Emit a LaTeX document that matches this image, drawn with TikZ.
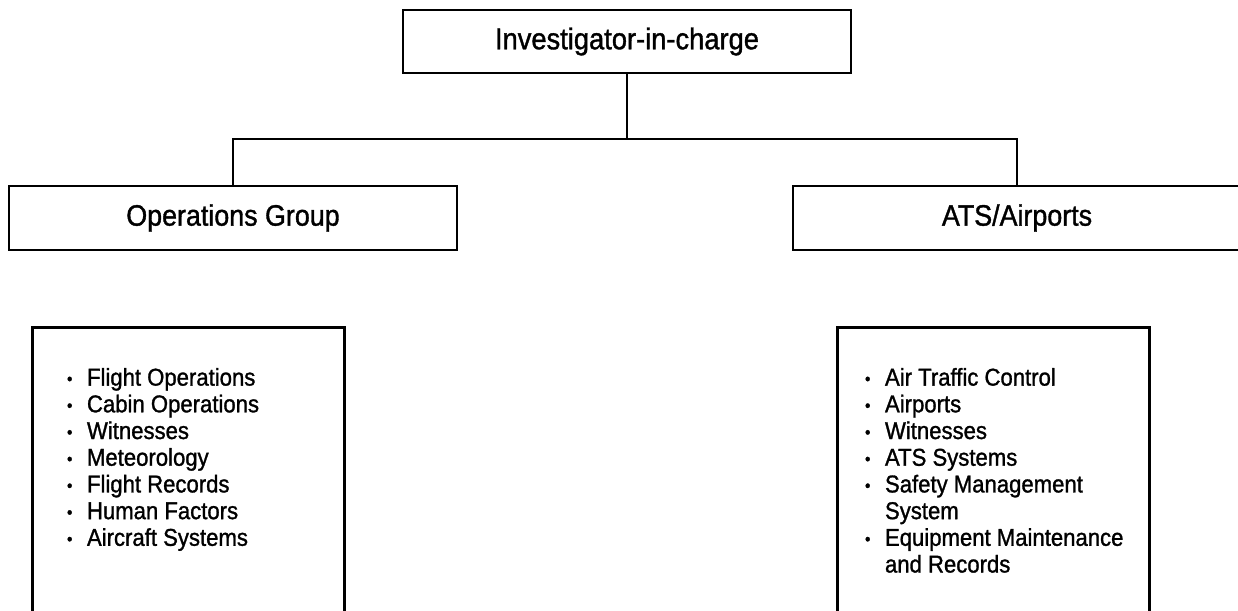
\documentclass[tikz,border=0pt]{standalone}
\usepackage{fontspec}
\setmainfont{Liberation Sans}[FakeStretch=0.91,FakeBold=1.2]

\newcommand{\bul}{\makebox[20pt][l]{\raisebox{1pt}{\fontsize{17}{17}\selectfont\textbullet}}}
\newcommand{\cont}{\hspace*{20pt}}

\begin{document}
\begin{tikzpicture}
[x=1pt,y=-1pt,%
  every node/.style={draw,align=center,inner sep=0pt},%
  headbox/.style={line width=2.5pt,minimum width=448pt,minimum height=63pt,
    font=\fontsize{30}{32}\selectfont},%
  groupbox/.style={line width=2.5pt,minimum width=448pt,minimum height=64pt,
    font=\fontsize{29.5}{31}\selectfont},%
  listbox/.style={line width=3pt,anchor=north west,align=left,
    inner xsep=0pt,inner ysep=40.5pt,minimum width=312pt,
    font=\fontsize{24.3}{26.7}\selectfont},%
  link/.style={line width=1.2pt}]
\useasboundingbox (0,0) rectangle (1238,610);
\clip (0,0) rectangle (1238,610);
\node[headbox] (iic) at (627,41.5) {Investigator-in-charge};
\node[groupbox] (ops) at (233,218) {Operations Group};
\node[groupbox] (ats) at (1017,218) {ATS/Airports};
\coordinate (fork) at (627,139);
\draw[link] (iic.south) -- (fork);
\draw[link] (fork) -| (ops.north);
\draw[link] (fork) -| (ats.north);
\node[listbox] (opslist) at (31,326) {%
  \begin{minipage}[t][300pt][t]{312pt}
  \raggedright\leftskip=34.5pt
  \bul Flight Operations\\
  \bul Cabin Operations\\
  \bul Witnesses\\
  \bul Meteorology\\
  \bul Flight Records\\
  \bul Human Factors\\
  \bul Aircraft Systems
  \end{minipage}};
\node[listbox] (atslist) at (836,326) {%
  \begin{minipage}[t][300pt][t]{312pt}
  \raggedright\leftskip=27.5pt
  \bul Air Traffic Control\\
  \bul Airports\\
  \bul Witnesses\\
  \bul ATS Systems\\
  \bul Safety Management\\
  \cont System\\
  \bul Equipment Maintenance\\
  \cont and Records
  \end{minipage}};
\end{tikzpicture}
\end{document}
